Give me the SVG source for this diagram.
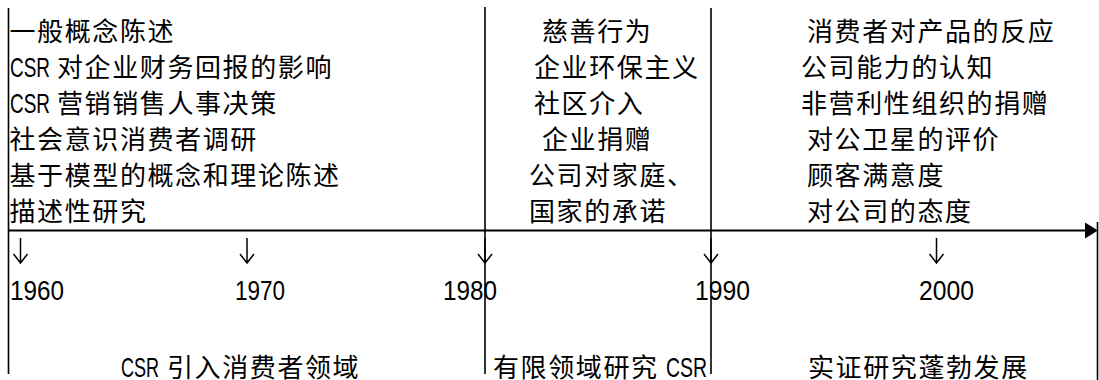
<svg xmlns="http://www.w3.org/2000/svg" width="1099" height="380" viewBox="0 0 1099 380">
<style>
.cj{font-family:'Noto Sans CJK SC','Noto Sans CJK JP',sans-serif;font-size:26px;fill:#000;letter-spacing:1.6px}
.la{font-family:'Liberation Sans','Noto Sans CJK SC',sans-serif;font-size:28px;fill:#000}
.ln{stroke:#000;stroke-width:1.6;fill:none}
.ax{stroke:#000;stroke-width:2;fill:none}
.ar{stroke:#000;stroke-width:1.5;fill:none}
</style>
<rect width="1099" height="380" fill="#fff"/>
<g id="connectors">
  <line class="ln" x1="8.5" y1="8" x2="8.5" y2="374"/>
  <line class="ln" x1="485" y1="7" x2="485" y2="374"/>
  <line class="ln" x1="711" y1="8" x2="711" y2="374"/>
  <line class="ln" x1="1097.5" y1="222" x2="1097.5" y2="380"/>
  <line class="ax" x1="9" y1="230.5" x2="1087" y2="230.5"/>
  <polygon points="1085,222.5 1098,230.5 1085,238.5" fill="#000"/>
  <path class="ar" d="M20.5,238V263M13.5,254L20.5,263L27.5,254"/>
  <path class="ar" d="M247,238V263M240,254L247,263L254,254"/>
  <path class="ar" d="M485,238V263M478,254L485,263L492,254"/>
  <path class="ar" d="M711,238V263M704,254L711,263L718,254"/>
  <path class="ar" d="M936.5,238V263M929.5,254L936.5,263L943.5,254"/>
</g>
<g id="era-1960s-topics">
  <text class="cj" x="9.5" y="41">一般概念陈述</text>
  <text class="la" x="10" y="76.5" textLength="40" lengthAdjust="spacingAndGlyphs">CSR</text>
  <text class="cj" x="57" y="77">对企业财务回报的影响</text>
  <text class="la" x="10" y="112.5" textLength="40" lengthAdjust="spacingAndGlyphs">CSR</text>
  <text class="cj" x="57" y="113">营销销售人事决策</text>
  <text class="cj" x="9.5" y="149">社会意识消费者调研</text>
  <text class="cj" x="9.5" y="185">基于模型的概念和理论陈述</text>
  <text class="cj" x="9.5" y="221">描述性研究</text>
</g>
<g id="era-1980s-topics">
  <text class="cj" x="542" y="41">慈善行为</text>
  <text class="cj" x="534" y="77">企业环保主义</text>
  <text class="cj" x="534" y="113">社区介入</text>
  <text class="cj" x="542" y="149">企业捐赠</text>
  <text class="cj" x="529" y="185">公司对家庭、</text>
  <text class="cj" x="529" y="221">国家的承诺</text>
</g>
<g id="era-1990s-topics">
  <text class="cj" x="807" y="41">消费者对产品的反应</text>
  <text class="cj" x="801" y="77">公司能力的认知</text>
  <text class="cj" x="801" y="113">非营利性组织的捐赠</text>
  <text class="cj" x="807" y="149">对公卫星的评价</text>
  <text class="cj" x="807" y="185">顾客满意度</text>
  <text class="cj" x="807" y="221">对公司的态度</text>
</g>
<g id="years">
  <text class="la" x="10" y="300" textLength="54" lengthAdjust="spacingAndGlyphs">1960</text>
  <text class="la" x="235" y="300" textLength="50" lengthAdjust="spacingAndGlyphs">1970</text>
  <text class="la" x="443" y="300" textLength="54" lengthAdjust="spacingAndGlyphs">1980</text>
  <text class="la" x="695" y="300" textLength="55" lengthAdjust="spacingAndGlyphs">1990</text>
  <text class="la" x="919" y="300" textLength="55" lengthAdjust="spacingAndGlyphs">2000</text>
</g>
<g id="phase-1">
  <text class="la" x="121" y="377" textLength="38" lengthAdjust="spacingAndGlyphs">CSR</text>
  <text class="cj" x="167" y="377">引入消费者领域</text>
</g>
<g id="phase-2">
  <text class="cj" x="493" y="377">有限领域研究</text>
  <text class="la" x="666" y="377" textLength="41" lengthAdjust="spacingAndGlyphs">CSR</text>
</g>
<g id="phase-3">
  <text class="cj" x="808" y="377">实证研究蓬勃发展</text>
</g>
</svg>
